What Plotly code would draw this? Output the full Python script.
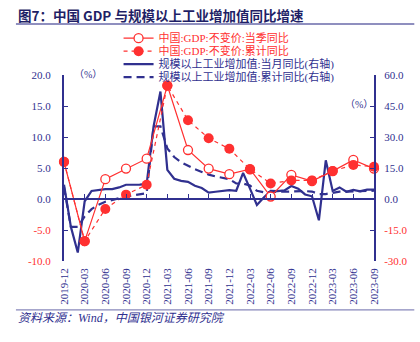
import pandas as pd
import plotly.graph_objects as go

# ---- data -------------------------------------------------------------
months = [p.strftime("%Y-%m") for p in pd.period_range("2019-12", "2023-09", freq="M")]
quarters = months[::3]

# GDP, constant prices, y/y (%), left axis
gdp_quarter = [6.0, -6.8, 3.2, 4.9, 6.5, 18.3, 7.9, 4.9, 4.0, 4.8, 0.4, 3.9, 2.9, 4.5, 6.3, 4.9]
gdp_ytd = [6.0, -6.8, -1.6, 0.7, 2.3, 18.3, 12.7, 9.8, 8.1, 4.8, 2.5, 3.0, 3.0, 4.5, 5.5, 5.2]

# Industrial value added above designated size, y/y (%), right axis
ind_month = [6.9, -13.5, -25.9, -1.1, 3.9, 4.4, 4.8, 4.8, 5.6, 6.9, 6.9, 7.0, 7.3,
             35.1, 52.0, 14.1, 9.8, 8.8, 8.3, 6.4, 5.3, 3.1, 3.5, 3.8, 4.3,
             4.0, 12.6, 5.0, -2.9, 0.7, 3.9, 3.8, 4.2, 6.3, 5.0, 2.2, 1.3,
             -10.3, 18.7, 3.9, 5.6, 3.5, 4.4, 3.7, 4.5, 4.5]
ind_ytd = [5.7, -13.5, -13.5, -8.4, -4.9, -2.8, -1.3, -0.4, 0.4, 1.2, 1.8, 2.3, 2.8,
           35.1, 35.1, 24.5, 20.3, 17.8, 15.9, 14.4, 13.1, 11.8, 10.9, 10.1, 9.6,
           7.5, 7.5, 6.5, 4.0, 3.3, 3.4, 3.5, 3.6, 3.9, 4.0, 3.8, 3.6,
           2.4, 2.4, 3.0, 3.6, 3.6, 3.8, 3.8, 3.9, 4.0]

left_ticks = [-10, -5, 0, 5, 10, 15, 20]
right_ticks = [-30, -15, 0, 15, 30, 45, 60]

# ---- styling ------------------------------------------------------------
NAVY = "#30308f"
RED = "#ff3030"
SERIF = "Times New Roman, Liberation Serif, Tinos, serif"
SERIF_CJK = "Times New Roman, Liberation Serif, Noto Sans CJK SC, serif"


def red(s):
    return f"<span style='color:{RED}'>{s}</span>"


def tick_text(vals):
    return [red(f"{v:.1f}") if v < 0 else f"{v:.1f}" for v in vals]


fig = go.Figure()

# industrial lines on the base subplot (right-hand scale)
fig.add_trace(go.Scatter(
    x=months, y=ind_month, name="规模以上工业增加值:当月同比(右轴)",
    mode="lines", line=dict(color=NAVY, width=2.2),
    legend="legend", legendgroup="c", legendrank=2,
))
fig.add_trace(go.Scatter(
    x=months, y=ind_ytd, name="规模以上工业增加值:累计同比(右轴)",
    mode="lines", line=dict(color=NAVY, width=2.2, dash="8px,5px"),
    legend="legend2", legendgroup="d", legendrank=2,
))
# GDP on the overlaid subplot (left-hand scale), drawn on top
fig.add_trace(go.Scatter(
    x=quarters, y=gdp_quarter, name=red("中国:GDP:不变价:当季同比"),
    mode="lines+markers", line=dict(color=RED, width=1.2),
    marker=dict(symbol="circle", size=9, color="white", line=dict(color=RED, width=1.3)),
    xaxis="x2", yaxis="y2", legend="legend", legendgroup="a", legendrank=1,
    cliponaxis=False,
))
fig.add_trace(go.Scatter(
    x=quarters, y=gdp_ytd, name=red("中国:GDP:不变价:累计同比"),
    mode="lines+markers", line=dict(color=RED, width=1.2, dash="4px,4px"),
    marker=dict(symbol="circle", size=10, color=RED),
    xaxis="x2", yaxis="y2", legend="legend2", legendgroup="b", legendrank=1,
    cliponaxis=False,
))

axis_font = dict(family=SERIF, size=11, color=NAVY)
tick_style = dict(ticks="inside", ticklen=4, tickwidth=1.2, tickcolor=NAVY,
                  showgrid=False, zeroline=False)

fig.update_layout(
    width=420, height=342,
    margin=dict(l=64, r=39, t=75, b=81),
    paper_bgcolor="white", plot_bgcolor="white",
    font=dict(family=SERIF_CJK, size=11, color=NAVY),
    showlegend=True,
    xaxis=dict(
        type="category", categoryorder="array", categoryarray=months,
        range=[0, len(months) - 1],
        tickmode="array", tickvals=quarters, ticktext=quarters,
        tickangle=-90, ticks="", showline=False, showgrid=False, zeroline=False,
        tickfont=axis_font, ticklabelstandoff=4,
    ),
    xaxis2=dict(
        type="category", categoryorder="array", categoryarray=months,
        matches="x", overlaying="x", anchor="free",
        position=(0 - left_ticks[0]) / (left_ticks[-1] - left_ticks[0]),
        tickmode="array", tickvals=quarters, showticklabels=False,
        showline=True, linecolor=NAVY, linewidth=1.6, **tick_style,
    ),
    yaxis=dict(
        range=[right_ticks[0], right_ticks[-1]], side="right",
        tickmode="array", tickvals=right_ticks, ticktext=tick_text(right_ticks),
        showline=True, linecolor=NAVY, linewidth=2, **tick_style,
        tickfont=axis_font, ticklabelstandoff=6,
    ),
    yaxis2=dict(
        range=[left_ticks[0], left_ticks[-1]], overlaying="y", side="left", anchor="x",
        tickmode="array", tickvals=left_ticks, ticktext=tick_text(left_ticks),
        showline=True, linecolor=NAVY, linewidth=2, **tick_style,
        tickfont=axis_font, ticklabelstandoff=9,
    ),
    legend=dict(
        x=0.176, y=1.276, xanchor="left", yanchor="top",
        bgcolor="rgba(0,0,0,0)", borderwidth=0,
        traceorder="grouped", tracegroupgap=7,
        font=dict(family=SERIF_CJK, size=11, color=NAVY),
    ),
    legend2=dict(
        x=0.176, y=1.206, xanchor="left", yanchor="top",
        bgcolor="rgba(0,0,0,0)", borderwidth=0,
        traceorder="grouped", tracegroupgap=7,
        font=dict(family=SERIF_CJK, size=11, color=NAVY),
    ),
)

# title, rules and captions around the plot
fig.add_annotation(
    text="<b>图7：中国 GDP 与规模以上工业增加值同比增速</b>",
    xref="paper", yref="paper", x=-0.155, y=1.322, xanchor="left", yanchor="middle",
    showarrow=False, font=dict(family="Noto Sans CJK SC", size=13.5, color="#1f1f66"),
)
fig.add_shape(type="line", xref="paper", yref="paper", x0=-0.155, x1=1.13, y0=1.274, y1=1.274,
              line=dict(color="#6a6aaa", width=1.5))
fig.add_shape(type="line", xref="paper", yref="paper", x0=-0.155, x1=1.13, y0=-0.263, y1=-0.263,
              line=dict(color="#6a6aaa", width=1))
fig.add_annotation(
    text="<i>资料来源：Wind，中国银河证券研究院</i>",
    xref="paper", yref="paper", x=-0.155, y=-0.306, xanchor="left", yanchor="middle",
    showarrow=False, font=dict(family=SERIF_CJK, size=12, color=NAVY),
)
fig.add_annotation(text="（%）", xref="paper", yref="paper", x=0.076, y=1.005,
                   xanchor="center", yanchor="middle", showarrow=False,
                   font=dict(family=SERIF_CJK, size=10, color=NAVY))
fig.add_annotation(text="（%）", xref="paper", yref="paper", x=0.95, y=0.839,
                   xanchor="center", yanchor="middle", showarrow=False,
                   font=dict(family=SERIF_CJK, size=10, color=NAVY))

fig.write_html("out.html")
